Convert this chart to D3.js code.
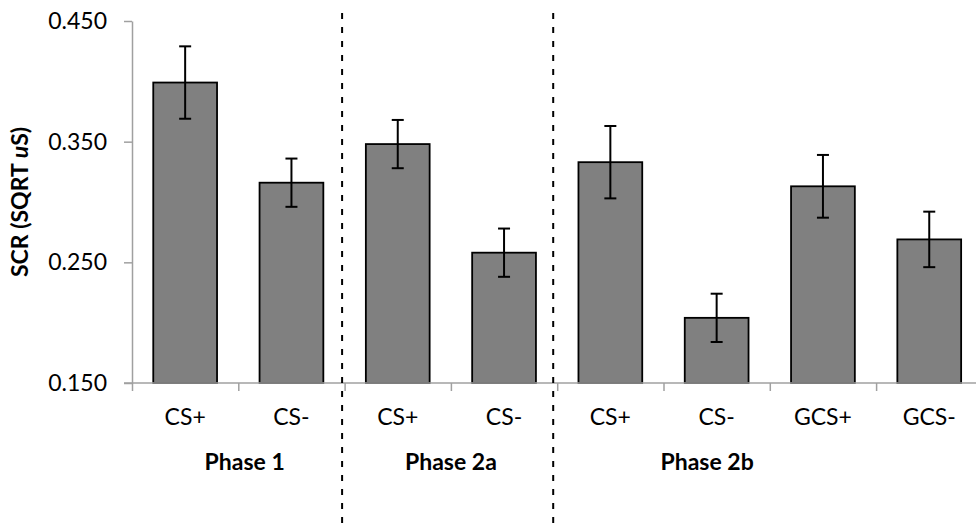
<!DOCTYPE html>
<meta charset="utf-8">
<script src="https://d3js.org/d3.v7.min.js"></script>
<style>
  body { margin: 0; background: #fff; }
  text { font-family: Lato, "Open Sans", sans-serif; }
</style>
<div id="my_dataviz"></div>
<script>

// data
var categories = ["CS+", "CS-", "CS+", "CS-", "CS+", "CS-", "GCS+", "GCS-"];
var means      = [0.399, 0.316, 0.348, 0.258, 0.333, 0.204, 0.313, 0.269];
var errors     = [0.030, 0.020, 0.020, 0.020, 0.030, 0.020, 0.026, 0.023];
var phaseNames = ["Phase 1", "Phase 2a", "Phase 2b"];
var yTicks     = [0.150, 0.250, 0.350, 0.450];

// layout
var W = 976, H = 524;
var plotLeft = 132, plotBottom = 383, plotTop = 21, step = 106.3;
var phaseLabelAt = [1.06, 3.0, 5.41];   // in category units from the axis start
var dividersAt = [2, 4];                 // category boundaries with a dashed line
var dividerNudge = [-2.5, -4];
var fontSize = "23px";

var svg = d3.select("#my_dataviz")
  .append("svg")
    .attr("width", W)
    .attr("height", H);

var idx = categories.map(function(d, i) { return i; });

var x = d3.scaleBand()
  .domain(idx)
  .range([plotLeft, plotLeft + step * categories.length])
  .paddingInner(0.4)
  .paddingOuter(0.2);

// linear helper for boundary ticks / label spots
var xi = d3.scaleLinear()
  .domain([0, categories.length])
  .range([plotLeft, plotLeft + step * categories.length]);

var y = d3.scaleLinear()
  .domain([0.15, 0.45])
  .range([plotBottom, plotTop]);

// bars
svg.selectAll("rect.bar")
  .data(idx)
  .enter()
  .append("rect")
    .attr("class", "bar")
    .attr("x", function(i) { return x(i); })
    .attr("y", function(i) { return y(means[i]); })
    .attr("width", x.bandwidth())
    .attr("height", function(i) { return y(0.15) - y(means[i]); })
    .attr("fill", "#808080")
    .attr("stroke", "#000")
    .attr("stroke-width", 1.8);

// X axis line with ticks at category boundaries
var xAxis = svg.append("g")
  .attr("transform", "translate(0," + plotBottom + ")")
  .call(d3.axisBottom(xi).tickValues(d3.range(0, categories.length + 1)).tickSize(8).tickSizeOuter(0).tickFormat(""));
xAxis.select(".domain").attr("stroke", "#a0a0a0").attr("stroke-width", 1.5).attr("d", "M" + (plotLeft - 8) + ",0H" + W);
xAxis.selectAll(".tick line").attr("stroke", "#a0a0a0").attr("stroke-width", 1.5);

// Y axis
var yAxis = svg.append("g")
  .attr("transform", "translate(" + plotLeft + ",0)")
  .call(d3.axisLeft(y).tickValues(yTicks).tickSize(8).tickSizeOuter(0).tickPadding(17).tickFormat(d3.format(".3f")));
yAxis.select(".domain").attr("stroke", "#a0a0a0").attr("stroke-width", 1.5);
yAxis.selectAll(".tick line").attr("stroke", "#a0a0a0").attr("stroke-width", 1.5);
yAxis.selectAll(".tick text")
  .attr("fill", "#000")
  .style("font-size", fontSize)
  .style("font-family", "Lato, 'Open Sans', sans-serif");

// error bars
var eb = svg.selectAll("g.err")
  .data(idx)
  .enter()
  .append("g")
    .attr("class", "err")
    .attr("stroke", "#000")
    .attr("stroke-width", 2);
eb.append("line")
  .attr("x1", function(i) { return x(i) + x.bandwidth() / 2; })
  .attr("x2", function(i) { return x(i) + x.bandwidth() / 2; })
  .attr("y1", function(i) { return y(means[i] + errors[i]); })
  .attr("y2", function(i) { return y(means[i] - errors[i]); });
[1, -1].forEach(function(s) {
  eb.append("line")
    .attr("x1", function(i) { return x(i) + x.bandwidth() / 2 - 6; })
    .attr("x2", function(i) { return x(i) + x.bandwidth() / 2 + 6; })
    .attr("y1", function(i) { return y(means[i] + s * errors[i]); })
    .attr("y2", function(i) { return y(means[i] + s * errors[i]); });
});

// category labels
svg.selectAll("text.cat")
  .data(idx)
  .enter()
  .append("text")
    .attr("class", "cat")
    .attr("x", function(i) { return x(i) + x.bandwidth() / 2; })
    .attr("y", 425)
    .attr("text-anchor", "middle")
    .style("font-size", fontSize)
    .text(function(i) { return categories[i]; });

// phase labels
svg.selectAll("text.phase")
  .data(phaseNames)
  .enter()
  .append("text")
    .attr("class", "phase")
    .attr("x", function(d, i) { return xi(phaseLabelAt[i]); })
    .attr("y", 470)
    .attr("text-anchor", "middle")
    .style("font-size", fontSize)
    .style("font-weight", "bold")
    .text(function(d) { return d; });

// dashed dividers
svg.selectAll("line.divider")
  .data(dividersAt)
  .enter()
  .append("line")
    .attr("class", "divider")
    .attr("x1", function(d, i) { return xi(d) + dividerNudge[i]; })
    .attr("x2", function(d, i) { return xi(d) + dividerNudge[i]; })
    .attr("y1", 13)
    .attr("y2", H)
    .attr("stroke", "#000")
    .attr("stroke-width", 2)
    .attr("stroke-dasharray", "6,8");

// Y label
var yl = svg.append("text")
  .attr("transform", "translate(28," + (plotTop + plotBottom) / 2 + ") rotate(-90)")
  .attr("text-anchor", "middle")
  .style("font-size", fontSize)
  .style("font-weight", "bold");
yl.append("tspan").text("SCR (SQRT ");
yl.append("tspan").style("font-style", "italic").text("u");
yl.append("tspan").text("S)");

</script>
